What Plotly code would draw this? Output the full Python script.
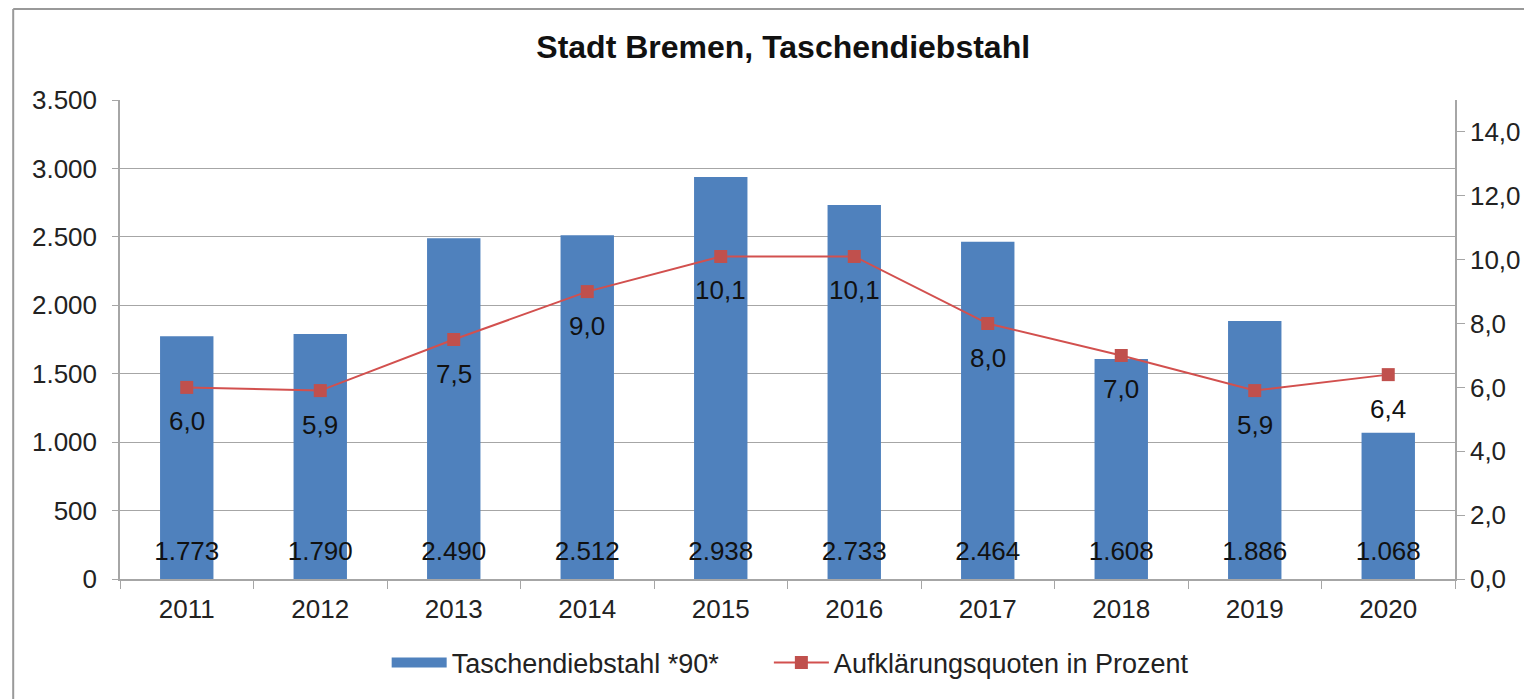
import plotly.graph_objects as go

jahre = ['2011', '2012', '2013', '2014', '2015', '2016', '2017', '2018', '2019', '2020']
taschendiebstahl = [1773, 1790, 2490, 2512, 2938, 2733, 2464, 1608, 1886, 1068]
aufklaerung = [6.0, 5.9, 7.5, 9.0, 10.1, 10.1, 8.0, 7.0, 5.9, 6.4]

schrift = "Liberation Sans, Arial, sans-serif"
blau = "#4F81BD"
rot = "#C0504D"
grau = "#A6A6A6"
label_y = 185  # Hoehe der Balkenbeschriftung (Achseneinheiten)

fig = go.Figure()

fig.add_trace(go.Bar(x=jahre, y=taschendiebstahl, name="Taschendiebstahl *90*",
                     marker=dict(color=blau, line=dict(width=0)), width=0.4,
                     showlegend=False))

# Legendeneintrag als breites Rechteck wie im Original
fig.add_trace(go.Scatter(x=[jahre[0]], y=[None], mode="lines",
                         name="Taschendiebstahl *90*" + "\u00a0" * 6,
                         line=dict(color=blau, width=11), hoverinfo="skip"))

# Balkenwerte unten im Balken
fig.add_trace(go.Scatter(x=jahre, y=[label_y] * len(jahre), mode="text",
                         text=taschendiebstahl, texttemplate="%{text:,.0f}",
                         textfont=dict(size=26, color="#111111", family=schrift),
                         showlegend=False, hoverinfo="skip"))

fig.add_trace(go.Scatter(x=jahre, y=aufklaerung, name="Aufklärungsquoten in Prozent",
                         yaxis="y2", mode="lines+markers",
                         line=dict(color="#D2504E", width=2),
                         marker=dict(symbol="square", size=13, color=rot)))

# Werte der Quote unter den Markern (x als Kategorienindex)
anmerkungen = [dict(x=i, y=w, xref="x", yref="y2", text=f"{w:.1f}".replace(".", ","),
                    showarrow=False, yshift=-34,
                    font=dict(size=26, color="#111111", family=schrift))
               for i, w in enumerate(aufklaerung)]

fig.update_layout(
    width=1532, height=699,
    separators=",.",
    paper_bgcolor="white", plot_bgcolor="white",
    font=dict(family=schrift, size=26, color="#222222"),
    margin=dict(l=112, r=85, t=92, b=128),
    title=dict(text="<b>Stadt Bremen, Taschendiebstahl</b>", x=0.506, xanchor="center",
               y=0.944, yanchor="middle", font=dict(size=32, color="#111111")),
    showlegend=True,
    legend=dict(orientation="h", x=0.502, xanchor="center", y=-0.175, yanchor="middle",
                font=dict(size=27), traceorder="normal", itemwidth=55),
    annotations=anmerkungen,
    xaxis=dict(type="category", range=[-0.5, len(jahre) - 0.5], showline=True,
               linecolor=grau, linewidth=1.5, ticks="outside", tickson="boundaries",
               ticklen=8, tickcolor=grau, showgrid=False, tickfont=dict(size=26),
               ticklabelstandoff=6),
    yaxis=dict(range=[0, 3500], tickvals=[0, 500, 1000, 1500, 2000, 2500, 3000, 3500],
               tickformat=",.0f", showgrid=True, gridcolor=grau, gridwidth=1.2,
               showline=True, linecolor=grau, linewidth=1.5, ticks="outside",
               ticklen=6, tickcolor=grau, zeroline=False, tickfont=dict(size=26),
               ticklabelstandoff=10),
    yaxis2=dict(range=[0, 15], tickvals=[0, 2, 4, 6, 8, 10, 12, 14], tickformat=".1f",
                overlaying="y", side="right", showgrid=False, showline=True,
                linecolor=grau, linewidth=1.5, ticks="outside", ticklen=8,
                tickcolor=grau, zeroline=False, tickfont=dict(size=26)),
    shapes=[
        dict(type="line", xref="paper", yref="paper", x0=-0.08, x1=-0.08, y0=1.19, y1=-0.3,
             line=dict(color="#999999", width=2)),
        dict(type="line", xref="paper", yref="paper", x0=-0.08, x1=1.1, y0=1.19, y1=1.19,
             line=dict(color="#999999", width=2)),
    ],
)

fig.write_html("out.html")
